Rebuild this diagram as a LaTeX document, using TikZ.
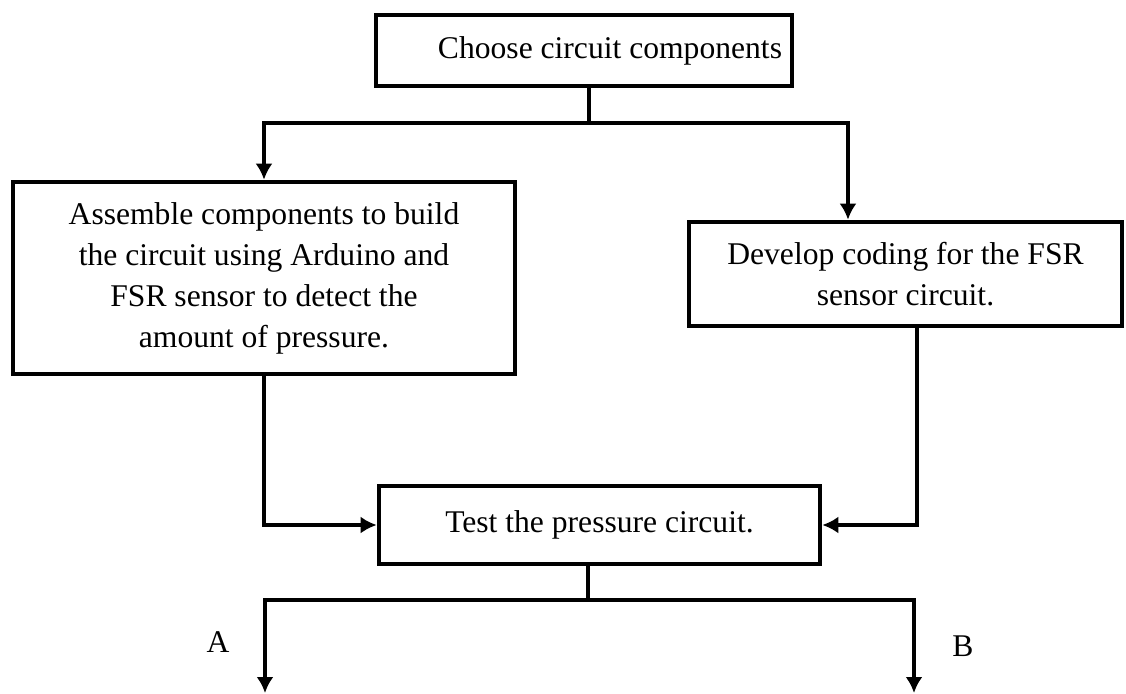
\documentclass[tikz,border=0pt]{standalone}
\usepackage{fontspec}
\setmainfont{Liberation Serif}
\usepackage{tikz}
\usetikzlibrary{shapes,arrows.meta,positioning,calc}
\tikzstyle{stage} = [rectangle, draw=black, line width=2.3pt, fill=white, text=black, align=center, inner sep=0pt, font=\fontsize{15.8pt}{20.5pt}\selectfont]
\tikzstyle{textonly} = [draw=none, fill=none, text centered, font=\fontsize{15.8pt}{20.5pt}\selectfont]
\tikzstyle{line}  = [draw, line width=2.3pt]
\tikzstyle{tedge}  = [draw, line width=2.3pt, -{Latex[length=8pt,width=8.5pt]}]

\begin{document}
\begin{tikzpicture}[x=0.5pt, y=-0.5pt]
\useasboundingbox (0,0) rectangle (1126,693);

% stages =============================

% nodes
\node[stage, minimum width=208pt, minimum height=35.5pt] (choose) at (584,50.5) {\hspace*{26pt}Choose circuit components};
\node[stage, minimum width=251pt, minimum height=96pt] (assemble) at (264,278) {Assemble components to build\\the circuit using Arduino and\\FSR sensor to detect the\\amount of pressure.};
\node[stage, minimum width=216.5pt, minimum height=52pt] (coding) at (905.5,274) {Develop coding for the FSR\\sensor circuit.};
\node[stage, minimum width=220.5pt, minimum height=39pt] (test) at (599.5,525) {\raisebox{1.5pt}{Test the pressure circuit.}};
\coordinate (split1) at (589,123);
\coordinate (split2) at (588,600);
\coordinate (outA) at (265,693);
\coordinate (outB) at (914,693);
\node[textonly] (labA) at (218,642) {A};
\node[textonly] (labB) at (963,646) {B};


% edges
\path[line] (choose.south -| split1) -- (split1);
\path[tedge] (split1) -| (assemble.north);
\path[tedge] (split1) -| ([xshift=-28.75pt]coding.north);
\path[tedge] (assemble.south) |- (test.west);
\path[tedge] ([xshift=5.75pt]coding.south) |- (test.east);
\path[line] ([xshift=-5.75pt]test.south) -- (split2);
\path[tedge] (split2) -| (outA);
\path[tedge] (split2) -| (outB);


\end{tikzpicture}
\end{document}
